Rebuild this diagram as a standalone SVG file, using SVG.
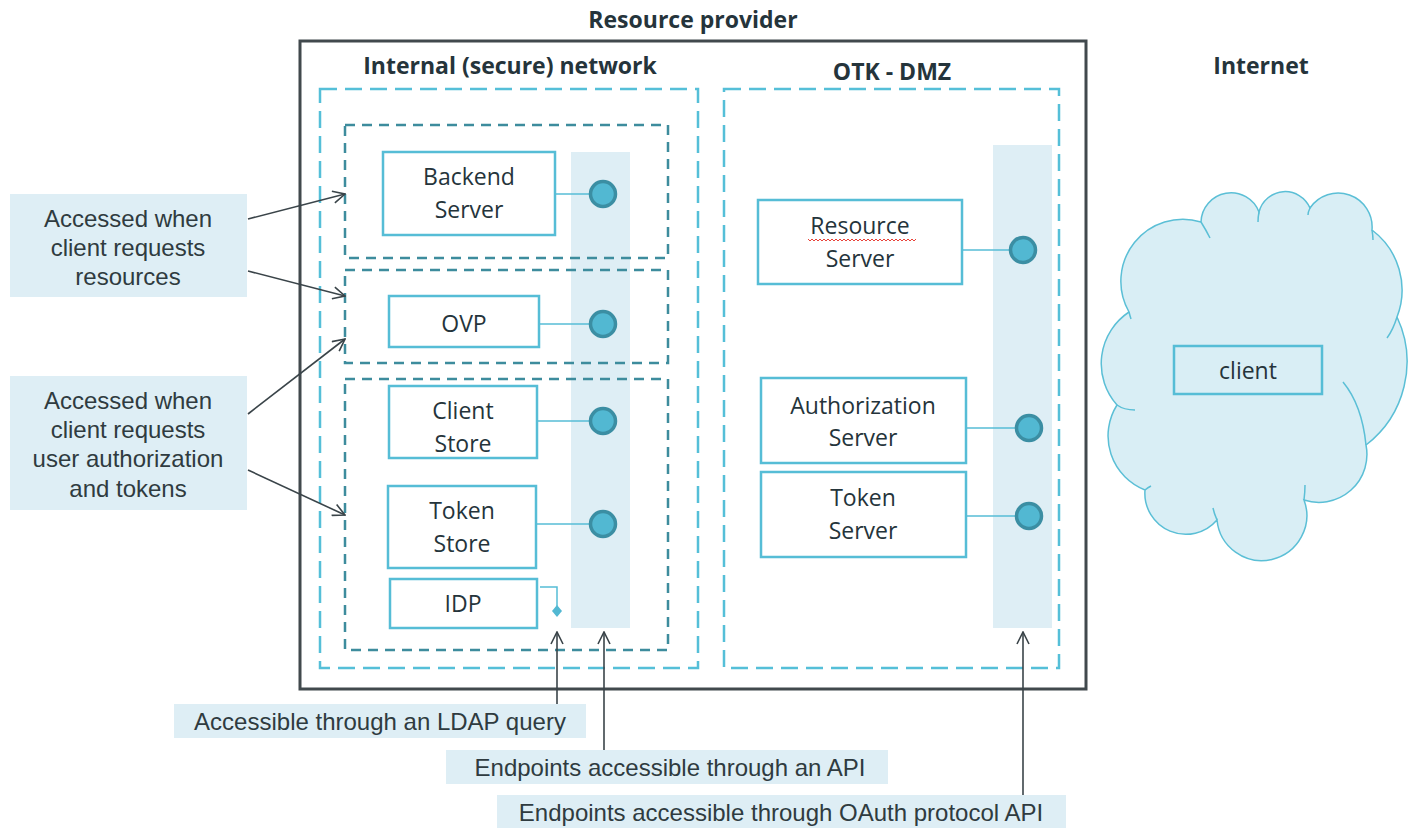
<svg xmlns="http://www.w3.org/2000/svg" width="1413" height="828" viewBox="0 0 1413 828">
<style>
.title{font-family:"Open Sans","DejaVu Sans",sans-serif;font-weight:bold;font-size:23px;fill:#25343b;text-anchor:middle}
.node rect.box{fill:#fff;stroke:#56bdd6;stroke-width:2.5}
.ntext{font-family:"Open Sans","DejaVu Sans",sans-serif;font-size:23px;fill:#25343b;text-anchor:middle}
.lbl{font-family:"Liberation Sans",Arial,sans-serif;font-size:24px;fill:#2f3b40;text-anchor:middle}
.lblbox{fill:#deeef5}
.col{fill:#deeef5}
.zone{fill:none;stroke:#55bfd8;stroke-width:2.5;stroke-dasharray:17 8}
.sub{fill:none;stroke:#3d8c9d;stroke-width:2.5;stroke-dasharray:10 7}
.ep{fill:#52b8d2;stroke:#3b8ea3;stroke-width:3.5}
.link{stroke:#56bdd6;stroke-width:1.5;fill:none}
.arrow{stroke:#3a4449;stroke-width:1.6;fill:none}
</style>
<defs>
<marker id="arr" viewBox="0 0 14 14" refX="13" refY="7" markerWidth="14" markerHeight="14" orient="auto" markerUnits="userSpaceOnUse">
<path d="M1,1 L13,7 L1,13" fill="none" stroke="#3a4449" stroke-width="1.6"/>
</marker>
</defs>
<rect width="1413" height="828" fill="#fff"/>

<g id="resource-provider">
<rect x="300" y="41" width="786" height="648" fill="none" stroke="#41494d" stroke-width="3"/>
<text class="title" x="693" y="28">Resource provider</text>
</g>

<g id="internal-network">
<rect class="zone" x="320" y="89" width="378" height="579"/>
<text class="title" x="510" y="74">Internal (secure) network</text>
<rect class="col" x="571" y="152" width="59" height="476"/>
<rect class="sub" x="345" y="125" width="323" height="133"/>
<rect class="sub" x="345" y="270" width="323" height="93"/>
<rect class="sub" x="345" y="379" width="323" height="271"/>
</g>

<g id="otk-dmz">
<rect class="zone" x="724" y="89" width="335" height="579"/>
<text class="title" x="892" y="80">OTK - DMZ</text>
<rect class="col" x="993" y="145" width="59" height="483"/>
</g>

<g id="internet">
<text class="title" x="1261" y="74">Internet</text>
<path d="M1117,405 A62,62 0 0 1 1129,312 A62,62 0 0 1 1201,222 A30,30 0 0 1 1259,212 A27,27 0 0 1 1310,208 A34,34 0 0 1 1372,230 A75,75 0 0 1 1397,317 A105,105 0 0 1 1366,445 A48,48 0 0 1 1304,500 A45,45 0 1 1 1217,520 A41,41 0 0 1 1145,490 A58,58 0 0 1 1117,405 Z" fill="#d9eef5" stroke="#5bbfd6" stroke-width="1.5"/>
<path d="M1117,405 Q1124,410 1135,410 M1129,312 Q1130,316 1131,319 M1201,222 Q1206,230 1210,238 M1259,212 Q1258,217 1258,222 M1310,208 Q1308,212 1308,215 M1372,230 Q1373,236 1373,240 M1397,317 Q1393,330 1387,338 M1343,382 Q1362,405 1366,445 M1304,500 Q1305,492 1305,485 M1217,520 Q1214,513 1213,508 M1145,490 Q1147,488 1151,486" fill="none" stroke="#5bbfd6" stroke-width="1.5"/>
</g>

<g id="connectors">
<line class="link" x1="555" y1="194" x2="591" y2="194"/>
<line class="link" x1="539" y1="324" x2="591" y2="324"/>
<line class="link" x1="537" y1="421" x2="591" y2="421"/>
<line class="link" x1="536" y1="524" x2="591" y2="524"/>
<polyline class="link" points="540,587 557,587 557,606"/>
<path d="M557,605 L562,611 L557,617 L552,611 Z" fill="#52b8d2"/>
<line class="link" x1="962" y1="250" x2="1011" y2="250"/>
<line class="link" x1="966" y1="428" x2="1017" y2="428"/>
<line class="link" x1="966" y1="516" x2="1017" y2="516"/>
<line class="arrow" x1="248" y1="219" x2="345" y2="194" marker-end="url(#arr)"/>
<line class="arrow" x1="248" y1="271" x2="345" y2="296" marker-end="url(#arr)"/>
<line class="arrow" x1="248" y1="414" x2="345" y2="339" marker-end="url(#arr)"/>
<line class="arrow" x1="248" y1="470" x2="345" y2="515" marker-end="url(#arr)"/>
<line class="arrow" x1="557" y1="704" x2="557" y2="632" marker-end="url(#arr)"/>
<line class="arrow" x1="604" y1="750" x2="604" y2="632" marker-end="url(#arr)"/>
<line class="arrow" x1="1023" y1="795" x2="1023" y2="632" marker-end="url(#arr)"/>
</g>

<g id="ep-backend"><circle class="ep" cx="603" cy="194" r="12.5"/></g>
<g id="ep-ovp"><circle class="ep" cx="603" cy="324" r="12.5"/></g>
<g id="ep-client-store"><circle class="ep" cx="603" cy="421" r="12.5"/></g>
<g id="ep-token-store"><circle class="ep" cx="603" cy="524" r="12.5"/></g>
<g id="ep-resource"><circle class="ep" cx="1023" cy="250" r="12.5"/></g>
<g id="ep-authorization"><circle class="ep" cx="1029" cy="428" r="12.5"/></g>
<g id="ep-token-server"><circle class="ep" cx="1029" cy="516" r="12.5"/></g>

<g id="backend-server" class="node">
<rect class="box" x="383" y="152" width="172" height="83"/>
<text class="ntext" x="469" y="185">Backend</text>
<text class="ntext" x="469" y="218">Server</text>
</g>
<g id="ovp" class="node">
<rect class="box" x="389" y="296" width="150" height="51"/>
<text class="ntext" x="464" y="332">OVP</text>
</g>
<g id="client-store" class="node">
<rect class="box" x="389" y="386" width="148" height="72"/>
<text class="ntext" x="463" y="419">Client</text>
<text class="ntext" x="463" y="452">Store</text>
</g>
<g id="token-store" class="node">
<rect class="box" x="388" y="486" width="148" height="82"/>
<text class="ntext" x="462" y="519">Token</text>
<text class="ntext" x="462" y="552">Store</text>
</g>
<g id="idp" class="node">
<rect class="box" x="390" y="579" width="147" height="49"/>
<text class="ntext" x="463" y="612">IDP</text>
</g>
<g id="resource-server" class="node">
<rect class="box" x="758" y="200" width="204" height="84"/>
<text class="ntext" x="860" y="234">Resource</text>
<polyline points="808,239 810,241 812,239 814,241 816,239 818,241 820,239 822,241 824,239 826,241 828,239 830,241 832,239 834,241 836,239 838,241 840,239 842,241 844,239 846,241 848,239 850,241 852,239 854,241 856,239 858,241 860,239 862,241 864,239 866,241 868,239 870,241 872,239 874,241 876,239 878,241 880,239 882,241 884,239 886,241 888,239 890,241 892,239 894,241 896,239 898,241 900,239 902,241 904,239 906,241 908,239 910,241 912,239 914,241 916,239" fill="none" stroke="#e8433a" stroke-width="1"/>
<text class="ntext" x="860" y="267">Server</text>
</g>
<g id="authorization-server" class="node">
<rect class="box" x="761" y="378" width="205" height="85"/>
<text class="ntext" x="863" y="414">Authorization</text>
<text class="ntext" x="863" y="446">Server</text>
</g>
<g id="token-server" class="node">
<rect class="box" x="761" y="472" width="205" height="85"/>
<text class="ntext" x="863" y="506">Token</text>
<text class="ntext" x="863" y="539">Server</text>
</g>
<g id="client" class="node">
<rect class="box" x="1174" y="346" width="148" height="48" style="fill:none"/>
<text class="ntext" x="1248" y="379">client</text>
</g>

<g id="label-resources">
<rect class="lblbox" x="10" y="194" width="237" height="103"/>
<text class="lbl" x="128" y="227">Accessed when</text>
<text class="lbl" x="128" y="256">client requests</text>
<text class="lbl" x="128" y="285">resources</text>
</g>
<g id="label-authorization">
<rect class="lblbox" x="10" y="376" width="237" height="134"/>
<text class="lbl" x="128" y="409">Accessed when</text>
<text class="lbl" x="128" y="438">client requests</text>
<text class="lbl" x="128" y="467">user authorization</text>
<text class="lbl" x="128" y="497">and tokens</text>
</g>
<g id="label-ldap">
<rect class="lblbox" x="174" y="704" width="412" height="34"/>
<text class="lbl" x="380" y="730">Accessible through an LDAP query</text>
</g>
<g id="label-api">
<rect class="lblbox" x="446" y="750" width="442" height="34"/>
<text class="lbl" x="670" y="776">Endpoints accessible through an API</text>
</g>
<g id="label-oauth">
<rect class="lblbox" x="497" y="795" width="569" height="33"/>
<text class="lbl" x="781" y="821">Endpoints accessible through OAuth protocol API</text>
</g>
</svg>
